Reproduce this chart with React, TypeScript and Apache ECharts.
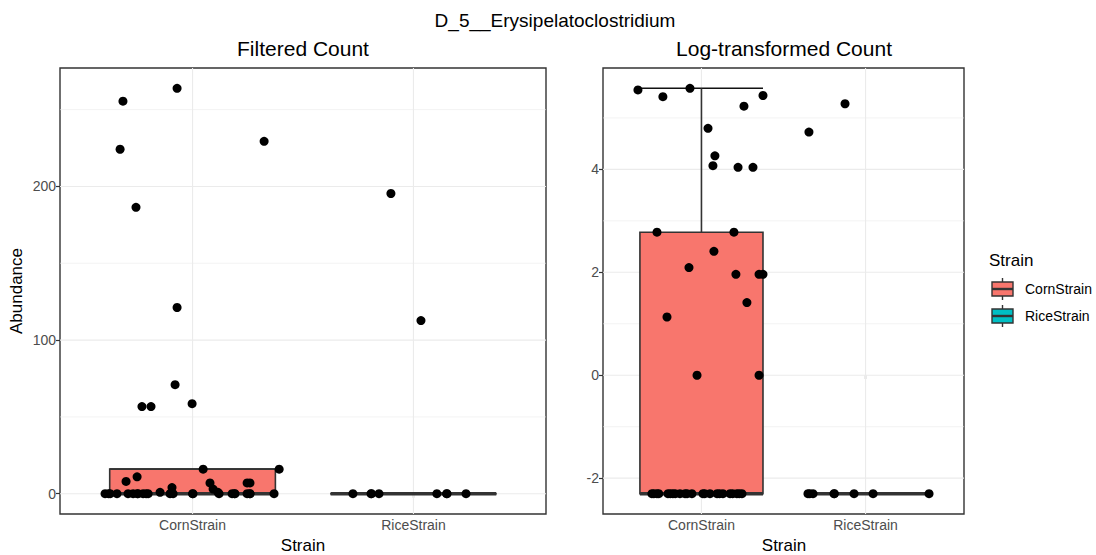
import React, { useEffect, useRef } from "react";
import * as echarts from "echarts";

// Strains shown on the x axis (category positions 1 and 2)
const strains = ["CornStrain", "RiceStrain"];

// Filtered counts per sample, with the horizontal jitter used in each panel
const cornCounts = [
  263.9, 255.5, 229.4, 224.2, 186.4, 121.2, 71.0, 58.6, 56.7, 56.7,
  16.0, 16.0, 11.0, 8.0, 7.0, 7.0, 7.0, 4.0, 3.0, 0.9, 0.9,
  0, 0, 0, 0, 0, 0, 0, 0, 0, 0, 0, 0, 0, 0, 0, 0, 0, 0, 0, 0, 0, 0, 0,
];
const cornJitterFiltered = [
  -0.07, -0.315, 0.324, -0.328, -0.256, -0.07, -0.079, -0.002, -0.229, -0.188,
  0.048, 0.392, -0.251, -0.301, 0.079, 0.247, 0.26, -0.093, 0.093, -0.147, 0.115,
  -0.396, -0.373, -0.342, -0.292, -0.269, -0.247, -0.224, -0.201, -0.102, -0.088, 0.002,
  0.179, 0.192, 0.247, 0.26, 0.369, -0.38, -0.25, -0.21, 0.0, 0.12, 0.19, 0.26,
];
const cornJitterLog = [
  -0.07, -0.387, 0.375, -0.235, 0.259, 0.04, 0.082, 0.07, 0.223, 0.314,
  -0.271, 0.198, 0.076, -0.076, 0.21, 0.351, 0.375, 0.277, -0.21, -0.027, 0.351,
  -0.302, -0.271, -0.204, -0.174, -0.131, -0.088, -0.058, 0.009, 0.052, 0.095, 0.131,
  0.174, 0.216, 0.247, -0.29, -0.26, -0.19, -0.16, -0.1, 0.02, 0.11, 0.19, 0.23,
];

const riceCounts = [195.4, 112.7, 0, 0, 0, 0, 0, 0, 0, 0];
const riceJitterFiltered = [-0.102, 0.034, -0.274, -0.192, -0.156, 0.106, 0.152, 0.238, -0.19, 0.15];
const riceJitterLog = [-0.125, -0.345, -0.351, -0.32, -0.192, -0.07, 0.046, 0.387, -0.34, -0.19];

// Pseudo-count added before the natural log
const pseudoCount = 0.1;

// Axis ticks and grid lines
const filteredTicks = [0, 100, 200];
const filteredMinor = [50, 150, 250];
const logTicks = [-2, 0, 2, 4];
const logMinor = [-1, 1, 3, 5];

const fillColors = ["#F8766D", "#00BFC4"];
const FONT = "'Liberation Sans', Arial, Helvetica, sans-serif";
const DARK = "#333333";

const toLog = (v: number) => Math.log(v + pseudoCount);

function quantile(sorted: number[], p: number) {
  const h = (sorted.length - 1) * p;
  const lo = Math.floor(h);
  const hi = Math.ceil(h);
  return sorted[lo] + (h - lo) * (sorted[hi] - sorted[lo]);
}

function boxStats(values: number[]) {
  const s = [...values].sort((a, b) => a - b);
  const q1 = quantile(s, 0.25);
  const med = quantile(s, 0.5);
  const q3 = quantile(s, 0.75);
  const iqr = q3 - q1;
  const lo = Math.min(...s.filter((v) => v >= q1 - 1.5 * iqr));
  const hi = Math.max(...s.filter((v) => v <= q3 + 1.5 * iqr));
  return [lo, q1, med, q3, hi];
}

function expandedRange(values: number[]) {
  const mn = Math.min(...values);
  const mx = Math.max(...values);
  const pad = (mx - mn) * 0.05;
  return [mn - pad, mx + pad];
}

function buildPanel(
  gridIndex: number,
  corn: number[],
  rice: number[],
  cornJ: number[],
  riceJ: number[],
  ticks: number[],
  minor: number[]
) {
  const all = [...corn, ...rice];
  const [ymin, ymax] = expandedRange(all);
  const xAxis = {
    type: "value",
    gridIndex,
    min: 0.4,
    max: 2.6,
    axisLine: { show: false },
    splitLine: { show: false },
    axisTick: { show: true, customValues: [1, 2], length: 4, lineStyle: { color: DARK, width: 1.2 } },
    axisLabel: {
      show: true,
      customValues: [1, 2],
      formatter: (v: number) => strains[Math.round(v) - 1] ?? "",
      color: "#4D4D4D",
      fontSize: 14,
      fontFamily: FONT,
      margin: 4,
    },
  };
  const yAxis = {
    type: "value",
    gridIndex,
    min: ymin,
    max: ymax,
    axisLine: { show: false },
    splitLine: { show: false },
    axisTick: { show: true, customValues: ticks, length: 4, lineStyle: { color: DARK, width: 1.2 } },
    axisLabel: {
      show: true,
      customValues: ticks,
      color: "#4D4D4D",
      fontSize: 14,
      fontFamily: FONT,
      margin: 4,
    },
  };

  const mid = (ymin + ymax) / 2;
  const gridData: number[][] = [
    ...minor.map((v) => [1, v, 0, 0]),
    ...ticks.map((v) => [1, v, 0, 1]),
    [1, mid, 1, 1],
    [2, mid, 1, 1],
  ];
  const gridSeries = {
    type: "custom",
    xAxisIndex: gridIndex,
    yAxisIndex: gridIndex,
    z: 1,
    silent: true,
    data: gridData,
    encode: { x: 0, y: 1 },
    renderItem: (params: any, api: any) => {
      const cs = params.coordSys;
      const vertical = api.value(2) === 1;
      const major = api.value(3) === 1;
      const style = { stroke: "#EBEBEB", lineWidth: major ? 1.1 : 0.6 };
      const p = api.coord([api.value(0), api.value(1)]);
      if (vertical) {
        return { type: "line", shape: { x1: p[0], y1: cs.y, x2: p[0], y2: cs.y + cs.height }, style };
      }
      return { type: "line", shape: { x1: cs.x, y1: p[1], x2: cs.x + cs.width, y2: p[1] }, style };
    },
  };

  const boxData = [
    [1, ...boxStats(corn), 0],
    [2, ...boxStats(rice), 1],
  ];
  const boxSeries = {
    type: "custom",
    xAxisIndex: gridIndex,
    yAxisIndex: gridIndex,
    z: 2,
    silent: true,
    data: boxData,
    encode: { x: 0, y: [1, 2, 3, 4, 5] },
    renderItem: (_params: any, api: any) => {
      const x = api.value(0);
      const half = 0.375;
      const xl = api.coord([x - half, 0])[0];
      const xr = api.coord([x + half, 0])[0];
      const xc = api.coord([x, 0])[0];
      const yLo = api.coord([x, api.value(1)])[1];
      const yQ1 = api.coord([x, api.value(2)])[1];
      const yMed = api.coord([x, api.value(3)])[1];
      const yQ3 = api.coord([x, api.value(4)])[1];
      const yHi = api.coord([x, api.value(5)])[1];
      const fill = fillColors[api.value(6)];
      const line = { stroke: DARK, lineWidth: 1.6 };
      const cap = { stroke: "#111111", lineWidth: 1.6 };
      return {
        type: "group",
        children: [
          { type: "line", shape: { x1: xl, y1: yHi, x2: xr, y2: yHi }, style: cap },
          { type: "line", shape: { x1: xl, y1: yLo, x2: xr, y2: yLo }, style: cap },
          { type: "line", shape: { x1: xc, y1: yQ3, x2: xc, y2: yHi }, style: line },
          { type: "line", shape: { x1: xc, y1: yQ1, x2: xc, y2: yLo }, style: line },
          { type: "rect", shape: { x: xl, y: yQ3, width: xr - xl, height: yQ1 - yQ3 }, style: { fill, stroke: DARK, lineWidth: 1.6 } },
          { type: "line", shape: { x1: xl, y1: yMed, x2: xr, y2: yMed }, style: { stroke: DARK, lineWidth: 3.4 } },
        ],
      };
    },
  };

  const points = [
    ...corn.map((v, i) => [1 + cornJ[i], v]),
    ...rice.map((v, i) => [2 + riceJ[i], v]),
  ];
  const pointSeries = {
    type: "scatter",
    xAxisIndex: gridIndex,
    yAxisIndex: gridIndex,
    z: 3,
    silent: true,
    symbol: "circle",
    symbolSize: 9,
    itemStyle: { color: "#000000", opacity: 1 },
    data: points,
  };

  return { xAxis, yAxis, series: [gridSeries, boxSeries, pointSeries] };
}

function legendKey(y: number, color: string) {
  return {
    type: "group",
    children: [
      { type: "line", shape: { x1: 1002.5, y1: y - 11, x2: 1002.5, y2: y + 11 }, style: { stroke: DARK, lineWidth: 1.4 } },
      { type: "rect", shape: { x: 992, y: y - 7, width: 21, height: 14 }, style: { fill: color, stroke: DARK, lineWidth: 1.4 } },
      { type: "line", shape: { x1: 992, y1: y, x2: 1013, y2: y }, style: { stroke: DARK, lineWidth: 2.4 } },
    ],
  };
}

export default function App() {
  const ref = useRef<HTMLDivElement>(null);

  useEffect(() => {
    if (!ref.current) return;
    const chart = echarts.init(ref.current, undefined, { renderer: "svg" });

    const left = buildPanel(0, cornCounts, riceCounts, cornJitterFiltered, riceJitterFiltered, filteredTicks, filteredMinor);
    const right = buildPanel(
      1,
      cornCounts.map(toLog),
      riceCounts.map(toLog),
      cornJitterLog,
      riceJitterLog,
      logTicks,
      logMinor
    );

    const gridStyle = { show: true, borderColor: DARK, borderWidth: 1.4, backgroundColor: "#FFFFFF", containLabel: false, outerBoundsMode: "none" };

    const text = (x: number, y: number, t: string, size: number, align = "center", rotation = 0) => ({
      type: "text",
      x,
      y,
      rotation,
      style: { text: t, fill: "#000000", fontSize: size, fontFamily: FONT, textAlign: align, textVerticalAlign: "middle" },
      silent: true,
    });

    chart.setOption({
      animation: false,
      backgroundColor: "#FFFFFF",
      grid: [
        { ...gridStyle, left: 60, top: 68, width: 486, height: 446 },
        { ...gridStyle, left: 603, top: 68, width: 361, height: 446 },
      ],
      xAxis: [left.xAxis, right.xAxis],
      yAxis: [left.yAxis, right.yAxis],
      series: [...left.series, ...right.series],
      graphic: [
        text(555, 20, "D_5__Erysipelatoclostridium", 19),
        text(303, 48, "Filtered Count", 21),
        text(784, 48, "Log-transformed Count", 21),
        text(16, 291, "Abundance", 17, "center", Math.PI / 2),
        text(303, 545, "Strain", 17),
        text(784, 545, "Strain", 17),
        text(989, 260, "Strain", 17, "left"),
        legendKey(289, fillColors[0]),
        legendKey(316, fillColors[1]),
        {
          type: "text",
          x: 1025,
          y: 289,
          style: { text: strains[0], fill: "#000000", fontSize: 14, fontFamily: FONT, textAlign: "left", textVerticalAlign: "middle" },
        },
        {
          type: "text",
          x: 1025,
          y: 316,
          style: { text: strains[1], fill: "#000000", fontSize: 14, fontFamily: FONT, textAlign: "left", textVerticalAlign: "middle" },
        },
      ],
    });

    return () => chart.dispose();
  }, []);

  return (
    <div
      ref={ref}
      style={{ position: "absolute", left: 0, top: 0, width: 1096, height: 555, background: "#FFFFFF" }}
    />
  );
}
